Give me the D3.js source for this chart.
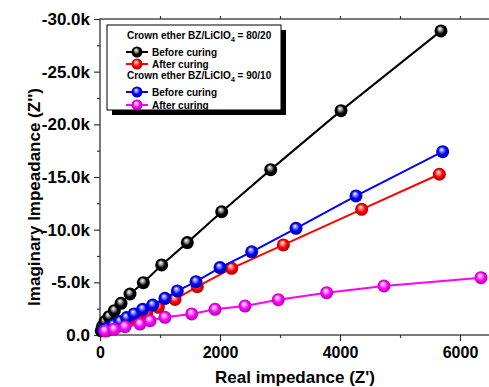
<!DOCTYPE html>
<html>
<head>
<meta charset="utf-8">
<script src="https://cdn.jsdelivr.net/npm/d3@7"></script>
<style>
	body { margin: 0; background: #fff; }
	text { font-family: 'Liberation Sans', Arial, sans-serif; font-weight: bold; }
</style>
</head>
<body>
<div id="chart"></div>
<script>
// values: Z' in ohm, -Z'' in kOhm
const blackX = [20, 40, 83, 150, 239, 350, 500, 722, 1028, 1455, 2028, 2845, 4017, 5683];
const blackY = [0.4, 0.79, 1.27, 1.74, 2.31, 3.01, 3.89, 4.97, 6.65, 8.77, 11.7, 15.7, 21.3, 28.87];
const redX = [110, 200, 300, 400, 500, 620, 780, 972, 1250, 1622, 2194, 3056, 4361, 5656];
const redY = [0.4, 0.6, 0.85, 1.1, 1.4, 1.7, 2.1, 2.63, 3.38, 4.59, 6.33, 8.55, 11.93, 15.26];
const blueX = [55, 122, 222, 333, 444, 567, 711, 878, 1083, 1289, 1600, 2000, 2528, 3267, 4267, 5711];
const blueY = [0.47, 0.63, 0.95, 1.27, 1.65, 2.0, 2.44, 2.85, 3.48, 4.18, 5.06, 6.4, 7.9, 10.13, 13.2, 17.4];
const magentaX = [83, 233, 417, 667, 833, 1083, 1528, 1917, 2417, 2972, 3778, 4733, 6350];
const magentaY = [0.38, 0.54, 0.79, 1.04, 1.36, 1.68, 2.0, 2.44, 2.75, 3.35, 4.02, 4.65, 5.44];

const xTicks = [0, 2000, 4000, 6000];
const yTicks = [0, 5000, 10000, 15000, 20000, 25000, 30000];

const groups = [
	{ title: ['Crown ether BZ/LiClO', '4', ' = 80/20'], items: ['Before curing', 'After curing'] },
	{ title: ['Crown ether BZ/LiClO', '4', ' = 90/10'], items: ['Before curing', 'After curing'] }
];

const series = [
	{ key: 'black', color: '#000000', dark: '#000000', light: '#9a9a9a', xs: blackX, ys: blackY },
	{ key: 'red', color: '#ff0000', dark: '#b00000', light: '#ff8080', xs: redX, ys: redY },
	{ key: 'blue', color: '#0000ff', dark: '#0000a8', light: '#8080ff', xs: blueX, ys: blueY },
	{ key: 'magenta', color: '#ff00ff', dark: '#b000b0', light: '#ff90ff', xs: magentaX, ys: magentaY }
];

const width = 489;
const height = 387;
const plotLeft = 100, plotRight = 490, plotTop = 19, plotBottom = 335;

const svg = d3.select('#chart').append('svg')
	.attr('width', width)
	.attr('height', height);

const defs = svg.append('defs');
series.forEach(s => {
	const g = defs.append('radialGradient')
		.attr('id', 'ball-' + s.key)
		.attr('cx', '0.5').attr('cy', '0.5').attr('r', '0.5')
		.attr('fx', '0.4').attr('fy', '0.3');
	g.append('stop').attr('offset', '0').attr('stop-color', '#ffffff');
	g.append('stop').attr('offset', '0.3').attr('stop-color', s.light);
	g.append('stop').attr('offset', '0.6').attr('stop-color', s.color);
	g.append('stop').attr('offset', '1').attr('stop-color', s.dark);
});

const x = d3.scaleLinear().domain([0, 6500]).range([plotLeft, plotRight]);
const y = d3.scaleLinear().domain([0, 30000]).range([plotBottom, plotTop]);

const yFormat = d => d === 0 ? '0.0' : '-' + d3.format('.1f')(d / 1000) + 'k';

// frame
svg.append('rect')
	.attr('x', plotLeft).attr('y', plotTop)
	.attr('width', plotRight - plotLeft).attr('height', plotBottom - plotTop)
	.attr('fill', 'none').attr('stroke', '#333').attr('stroke-width', 1.3);

const styleAxis = size => g => {
	g.select('.domain').remove();
	g.selectAll('line').attr('stroke', '#333').attr('stroke-width', 1.2);
	g.selectAll('text').attr('fill', '#000').style('font-size', size + 'px');
};

// bottom axis
svg.append('g')
	.attr('transform', `translate(0,${plotBottom})`)
	.call(d3.axisBottom(x).tickValues(xTicks).tickFormat(d3.format('d')).tickSize(6).tickPadding(6))
	.call(styleAxis(16));
svg.append('g')
	.attr('transform', `translate(0,${plotBottom})`)
	.call(d3.axisBottom(x).tickValues([1000, 3000, 5000]).tickFormat('').tickSize(3))
	.call(styleAxis(16));

// top axis (mirror, no labels)
svg.append('g')
	.attr('transform', `translate(0,${plotTop})`)
	.call(d3.axisTop(x).tickValues(d3.range(1000, 7000, 1000)).tickFormat('').tickSize(3))
	.call(styleAxis(16));

// left axis
svg.append('g')
	.attr('transform', `translate(${plotLeft},0)`)
	.call(d3.axisLeft(y).tickValues(yTicks).tickFormat(yFormat).tickSize(6).tickPadding(4))
	.call(styleAxis(17));
svg.append('g')
	.attr('transform', `translate(${plotLeft},0)`)
	.call(d3.axisLeft(y).tickValues(d3.range(2500, 30000, 5000)).tickFormat('').tickSize(3))
	.call(styleAxis(17));

// axis titles
svg.append('text')
	.attr('x', 295).attr('y', 383)
	.attr('text-anchor', 'middle')
	.style('font-size', '17px')
	.text("Real impedance (Z')");

svg.append('text')
	.attr('transform', 'translate(40,197) rotate(-90)')
	.attr('text-anchor', 'middle')
	.style('font-size', '17px')
	.text("Imaginary Impeadance (Z'')");

// series
const line = d3.line().x(d => x(d[0])).y(d => y(d[1]));

series.forEach(s => {
	const pts = s.xs.map((v, i) => [v, s.ys[i] * 1000]);
	svg.append('path')
		.datum(pts)
		.attr('d', line)
		.attr('fill', 'none')
		.attr('stroke', s.color)
		.attr('stroke-width', 2);
	svg.append('g')
		.selectAll('circle')
		.data(pts)
		.enter()
		.append('circle')
		.attr('cx', d => x(d[0]))
		.attr('cy', d => y(d[1]))
		.attr('r', 6.5)
		.attr('fill', `url(#ball-${s.key})`);
});

// legend
const lx = 107, ly = 25, lw = 174, lh = 85;
svg.append('rect')
	.attr('x', lx + 5).attr('y', ly + 5)
	.attr('width', lw).attr('height', lh)
	.attr('fill', '#000');
svg.append('rect')
	.attr('x', lx).attr('y', ly)
	.attr('width', lw).attr('height', lh)
	.attr('fill', '#fff').attr('stroke', '#000').attr('stroke-width', 1);

const titleY = [39, 79];
const itemY = [[52, 64], [92, 105]];

groups.forEach((grp, gi) => {
	const t = svg.append('text')
		.attr('x', 127).attr('y', titleY[gi])
		.style('font-size', '10px');
	t.append('tspan').text(grp.title[0]);
	t.append('tspan').attr('dy', 3).style('font-size', '7px').text(grp.title[1]);
	t.append('tspan').attr('dy', -3).text(grp.title[2]);

	grp.items.forEach((label, ii) => {
		const s = series[gi * 2 + ii];
		const cy = itemY[gi][ii];
		svg.append('line')
			.attr('x1', 126).attr('x2', 148)
			.attr('y1', cy).attr('y2', cy)
			.attr('stroke', s.color).attr('stroke-width', 2);
		svg.append('circle')
			.attr('cx', 137).attr('cy', cy).attr('r', 5.5)
			.attr('fill', `url(#ball-${s.key})`);
		svg.append('text')
			.attr('x', 152).attr('y', cy + 4)
			.style('font-size', '10px')
			.text(label);
	});
});
</script>
</body>
</html>
